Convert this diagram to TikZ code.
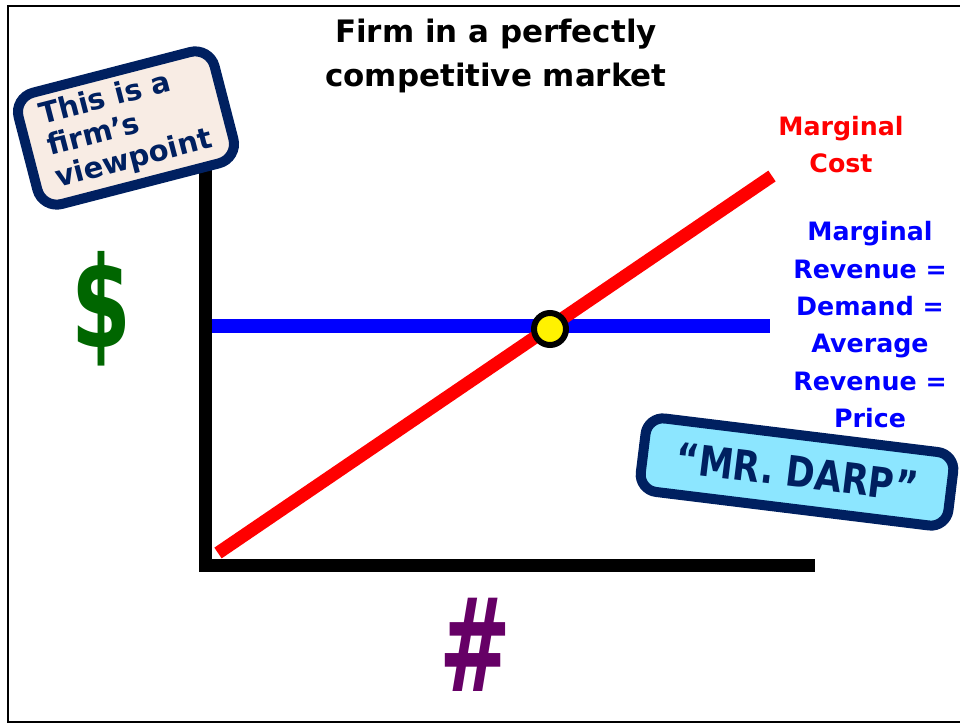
\documentclass[tikz,border=0pt]{standalone}
\usepackage{fontspec}
\setmainfont{DejaVu Sans}
\usepackage{tikz}
\definecolor{signnavy}{RGB}{0,32,96}
\definecolor{signbeige}{RGB}{248,236,228}
\definecolor{signcyan}{RGB}{140,230,255}
\definecolor{dollargreen}{RGB}{0,102,0}
\definecolor{countpurple}{RGB}{102,0,102}

\begin{document}
\begin{tikzpicture}[x=0.02cm,y=-0.02cm]
\tikzstyle{every node}+=[inner sep=0pt]
\tikzstyle{axisline}=[black,line width=0.26cm,line join=miter]
\tikzstyle{signbox}=[draw=signnavy,line width=0.2cm,rounded corners=0.4cm,text=signnavy]
\tikzstyle{curvelabel}=[anchor=north,align=center,font=\fontsize{14.4}{21.3}\selectfont\bfseries]
\useasboundingbox (0,0) rectangle (960,724);
\draw [black,line width=0.04cm] (960,6) -- (8,6) -- (8,722) -- (960,722);
\node [anchor=north,align=center,font=\fontsize{17.6}{25}\selectfont\bfseries] (title) at (496,19) {Firm in a perfectly\\competitive market};
\coordinate (top) at (205.5,170);
\coordinate (o) at (205.5,565);
\coordinate (right) at (815,565);
\draw [axisline] (top) -- (o) -- (right);
\coordinate (mr0) at (212,326);
\coordinate (mr1) at (770,326);
\draw [blue,line width=0.28cm] (mr0) -- (mr1);
\coordinate (mc0) at (218,553);
\coordinate (mc1) at (772,176);
\draw [red,line width=0.26cm] (mc0) -- (mc1);
\node [circle,draw=black,fill=yellow,line width=0.12cm,minimum size=0.64cm] (eq) at (550,329) {};
\node [signbox,fill=signbeige,rotate=14.5,minimum width=4.05cm,minimum height=2.3cm,align=left,font=\fontsize{16.5}{18.5}\selectfont\bfseries] (view) at (126,128) {This is a\\firm’s\\viewpoint};
\node [signbox,fill=signcyan,rotate=-7,rounded corners=0.35cm,minimum width=6.2cm,minimum height=1.48cm,font=\fontsize{24}{24}\selectfont\bfseries] (darp) at (797,472) {\scalebox{0.83}[1]{“MR. DARP”}};
\node [curvelabel,red] (mc) at (841,115.5) {Marginal\\Cost};
\node [curvelabel,blue] (mr) at (870,221) {Marginal\\Revenue =\\Demand =\\Average\\Revenue =\\Price};
\node [text=dollargreen,font=\fontsize{72}{72}\selectfont\bfseries] (dollar) at (101,309) {\scalebox{0.68}[1]{\$}};
\node [text=countpurple,font=\fontsize{74}{74}\selectfont\bfseries] (count) at (475,645) {\scalebox{0.66}[1]{\#}};
\end{tikzpicture}
\end{document}
